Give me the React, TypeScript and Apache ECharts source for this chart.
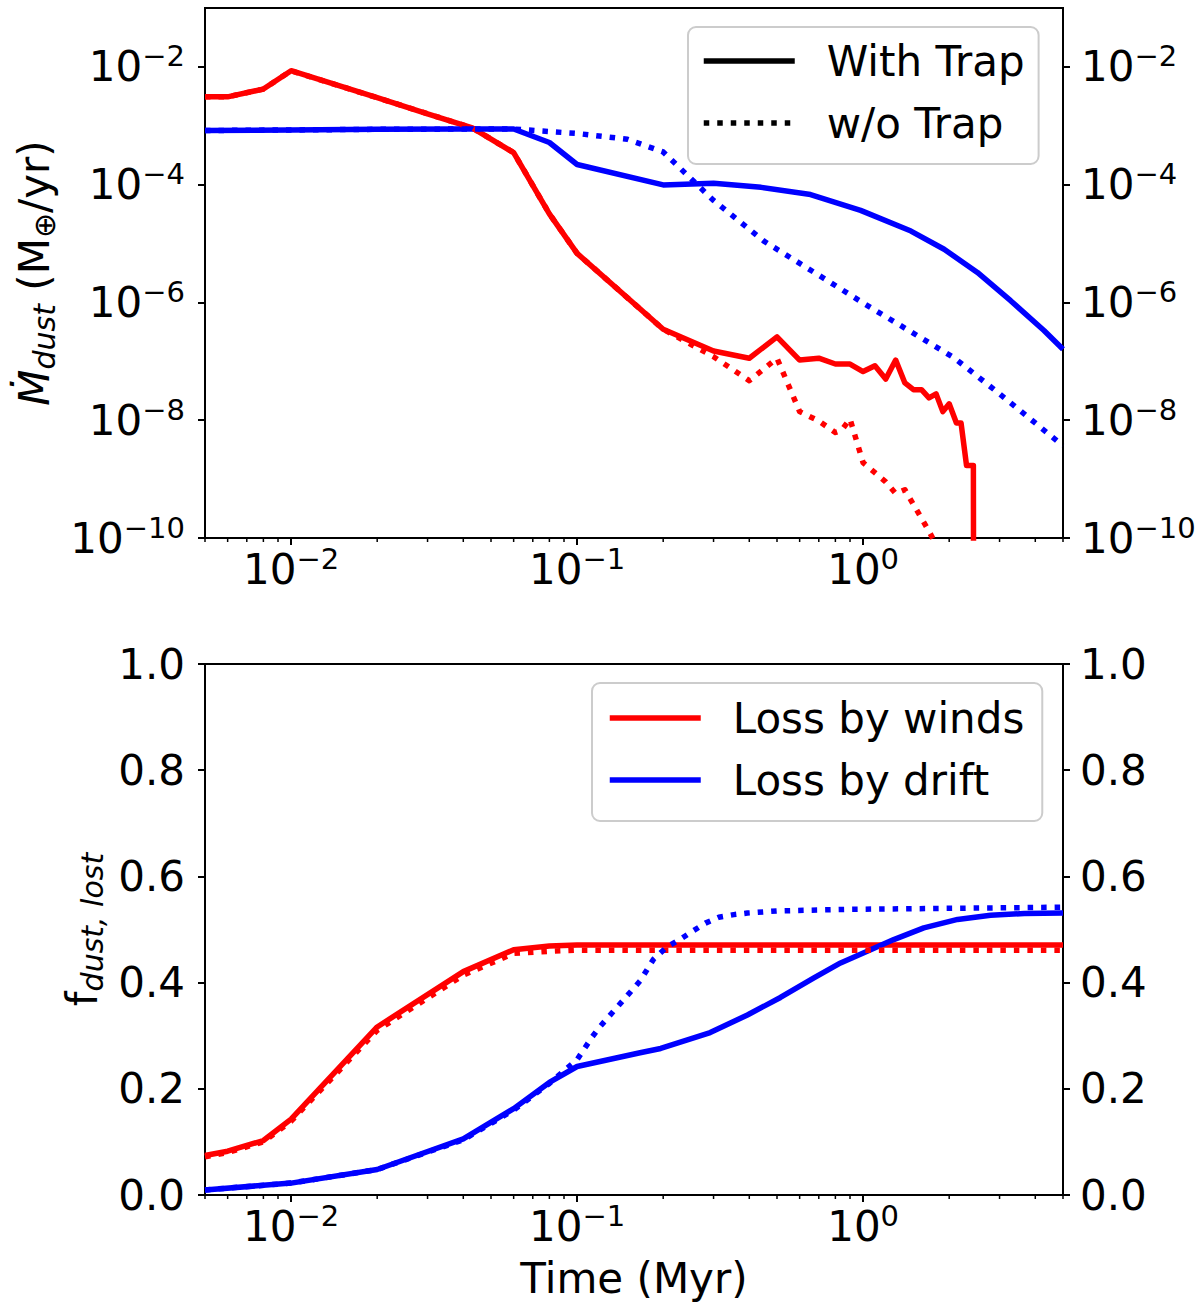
import React, { useEffect, useRef } from 'react';
import * as echarts from 'echarts';

const FONT = 'DejaVu Sans';
const RED = '#ff0000';
const BLUE = '#0000ff';
const LW = 5.5;
const DOT = [5.5, 8];

// top panel: dust loss rate (M_earth / yr) against time (Myr)
const windTrapTime = [0.005, 0.006, 0.008, 0.01, 0.02, 0.03, 0.043, 0.06, 0.08, 0.1, 0.2, 0.3, 0.4, 0.5, 0.6, 0.7, 0.8, 0.9, 1.0, 1.1, 1.2, 1.3, 1.4, 1.5, 1.6, 1.7, 1.8, 1.9, 2.0, 2.12, 2.2, 2.3, 2.43, 2.44];
const windTrapRate = [3.1e-3, 3.1e-3, 4.2e-3, 8.6e-3, 3.0e-3, 1.6e-3, 9.2e-4, 3.5e-4, 3.2e-5, 6.8e-6, 3.5e-7, 1.5e-7, 1.13e-7, 2.6e-7, 1.05e-7, 1.13e-7, 9e-8, 9e-8, 6.7e-8, 8.4e-8, 5e-8, 1.05e-7, 4.3e-8, 3.3e-8, 3.3e-8, 2.4e-8, 2.8e-8, 1.4e-8, 1.9e-8, 9e-9, 9e-9, 1.7e-9, 1.7e-9, 1e-14];

const windNoTrapTime = [0.005, 0.006, 0.008, 0.01, 0.02, 0.03, 0.043, 0.06, 0.08, 0.1, 0.2, 0.3, 0.4, 0.5, 0.6, 0.7, 0.8, 0.84, 0.9, 1.0, 1.2, 1.3, 1.4, 1.7, 2.0];
const windNoTrapRate = [3.1e-3, 3.1e-3, 4.2e-3, 8.6e-3, 3.0e-3, 1.6e-3, 9.2e-4, 3.5e-4, 3.2e-5, 6.8e-6, 3.5e-7, 1.2e-7, 4.7e-8, 1.13e-7, 1.4e-8, 9.7e-9, 6.2e-9, 6.7e-9, 1.05e-8, 1.9e-9, 9e-10, 5.7e-10, 6.6e-10, 1.3e-10, 3e-11];

const driftTrapTime = [0.005, 0.01, 0.02, 0.04, 0.06, 0.08, 0.1, 0.2, 0.3, 0.44, 0.655, 0.98, 1.47, 1.92, 2.51, 3.28, 4.29, 5.0];
const driftTrapRate = [8.3e-4, 8.5e-4, 8.7e-4, 8.8e-4, 8.8e-4, 5.2e-4, 2.2e-4, 9.9e-5, 1.06e-4, 9.0e-5, 6.8e-5, 3.66e-5, 1.63e-5, 8.0e-6, 3.23e-6, 1.07e-6, 3.34e-7, 1.6e-7];

const driftNoTrapTime = [0.005, 0.01, 0.02, 0.04, 0.06, 0.1, 0.15, 0.2, 0.3, 0.45, 0.7, 1.0, 2.08, 3.0, 5.0];
const driftNoTrapRate = [8.3e-4, 8.5e-4, 8.7e-4, 8.8e-4, 8.8e-4, 7.4e-4, 5.9e-4, 3.6e-4, 5.4e-5, 1.1e-5, 2.9e-6, 9.8e-7, 1.15e-7, 2.8e-8, 3.7e-9];

// bottom panel: fraction of dust lost
const windFracTime = [0.005, 0.006, 0.008, 0.01, 0.02, 0.04, 0.06, 0.08, 0.1, 0.2, 0.5, 1.0, 2.0, 5.0];
const windTrapFrac = [0.0745, 0.0825, 0.1026, 0.143, 0.3165, 0.4207, 0.462, 0.469, 0.471, 0.471, 0.471, 0.471, 0.471, 0.471];
const windNoTrapFrac = [0.072, 0.08, 0.1, 0.139, 0.31, 0.414, 0.455, 0.459, 0.461, 0.461, 0.461, 0.461, 0.461, 0.461];

const driftTrapFracTime = [0.005, 0.01, 0.02, 0.04, 0.06, 0.08, 0.1, 0.166, 0.196, 0.292, 0.394, 0.514, 0.673, 0.834, 1.034, 1.28, 1.63, 2.14, 2.79, 3.66, 5.0];
const driftTrapFrac = [0.0096, 0.0224, 0.048, 0.1058, 0.1627, 0.212, 0.242, 0.268, 0.276, 0.306, 0.339, 0.372, 0.409, 0.437, 0.459, 0.481, 0.503, 0.519, 0.527, 0.53, 0.531];

const driftNoTrapFracTime = [0.005, 0.01, 0.02, 0.04, 0.06, 0.08, 0.1, 0.113, 0.12, 0.166, 0.185, 0.206, 0.23, 0.252, 0.281, 0.313, 0.353, 0.394, 0.5, 0.904, 5.0];
const driftNoTrapFrac = [0.0096, 0.0224, 0.048, 0.104, 0.16, 0.21, 0.255, 0.298, 0.3165, 0.403, 0.444, 0.467, 0.482, 0.496, 0.512, 0.523, 0.528, 0.531, 0.535, 0.538, 0.542];

// ticks
const timeMajorTicks = [0.01, 0.1, 1];
const timeMinorTicks = [0.005, 0.006, 0.007, 0.008, 0.009, 0.02, 0.03, 0.04, 0.05, 0.06, 0.07, 0.08, 0.09, 0.2, 0.3, 0.4, 0.5, 0.6, 0.7, 0.8, 0.9, 2, 3, 4, 5];
const rateTicks = [1e-10, 1e-8, 1e-6, 1e-4, 1e-2];

const zip = (xs: number[], ys: number[]) => xs.map((x, i) => [x, ys[i]]);

const powLabel = (v: number) => {
  const e = Math.round(Math.log10(v));
  return `{b|10}{s|${e < 0 ? '\u2212' + -e : e}}`;
};

const tickRich = {
  b: { fontFamily: FONT, fontSize: 42, lineHeight: 50, color: '#000' },
  s: { fontFamily: FONT, fontSize: 29, lineHeight: 30, verticalAlign: 'top', color: '#000' },
};

const tick = (values?: number[], length = 7) => ({
  show: true,
  inside: false,
  length,
  lineStyle: { color: '#000', width: 2 },
  ...(values ? { customValues: values } : {}),
});

const timeAxis = (gridIndex: number, withName: boolean) => ({
  type: 'log',
  gridIndex,
  logBase: 10,
  min: 0.005,
  max: 5,
  position: 'bottom',
  axisLine: { show: false },
  axisTick: tick(timeMajorTicks),
  splitLine: { show: false },
  axisLabel: { customValues: timeMajorTicks, formatter: powLabel, rich: tickRich, margin: 6 },
  ...(withName
    ? {
        name: 'Time (Myr)',
        nameLocation: 'middle',
        nameGap: 62,
        nameTextStyle: { fontFamily: FONT, fontSize: 42, color: '#000' },
      }
    : {}),
});

const rateAxis = (position: string, withName: boolean) => ({
  type: 'log',
  gridIndex: 0,
  logBase: 10,
  min: 1e-10,
  max: 1e-1,
  position,
  axisLine: { show: false },
  axisTick: tick(rateTicks),
  splitLine: { show: false },
  axisLabel: { customValues: rateTicks, formatter: powLabel, rich: tickRich, margin: position === 'left' ? 20 : 18 },
  ...(withName
    ? {
        name: '{m|\u1E40}{ms|dust}{n| (M}{ns|\u2295}{n|/yr)}',
        nameLocation: 'middle',
        nameRotate: 90,
        nameGap: 146,
        nameTextStyle: {
          rich: {
            m: { fontFamily: FONT, fontSize: 42, fontStyle: 'italic', lineHeight: 50, color: '#000' },
            ms: { fontFamily: FONT, fontSize: 30, fontStyle: 'italic', lineHeight: 30, verticalAlign: 'bottom', color: '#000' },
            n: { fontFamily: FONT, fontSize: 42, lineHeight: 50, color: '#000' },
            ns: { fontFamily: FONT, fontSize: 30, lineHeight: 30, verticalAlign: 'bottom', color: '#000' },
          },
        },
      }
    : {}),
});

const fracAxis = (position: string, withName: boolean) => ({
  type: 'value',
  gridIndex: 1,
  min: 0,
  max: 1,
  interval: 0.2,
  position,
  axisLine: { show: false },
  axisTick: tick(),
  splitLine: { show: false },
  axisLabel: {
    fontFamily: FONT,
    fontSize: 42,
    color: '#000',
    margin: position === 'left' ? 20 : 17,
    formatter: (v: number) => v.toFixed(1),
  },
  ...(withName
    ? {
        name: '{n|f}{s|dust, lost}',
        nameLocation: 'middle',
        nameRotate: 90,
        nameGap: 94,
        nameTextStyle: {
          rich: {
            n: { fontFamily: FONT, fontSize: 42, lineHeight: 50, color: '#000' },
            s: { fontFamily: FONT, fontSize: 30, fontStyle: 'italic', lineHeight: 30, verticalAlign: 'bottom', color: '#000' },
          },
        },
      }
    : {}),
});

const line = (name: string, data: number[][], color: string, dotted: boolean, axis: number) => ({
  name,
  type: 'line',
  xAxisIndex: axis,
  yAxisIndex: axis * 2,
  data,
  symbol: 'none',
  showSymbol: false,
  clip: true,
  color,
  lineStyle: { color, width: LW, type: dotted ? DOT : 'solid', cap: 'butt', join: 'round' },
});

// short minor ticks under the log time axis, placed through the axis scale
const minorTicks = (axis: number, yBottom: number) => ({
  type: 'custom',
  xAxisIndex: axis,
  yAxisIndex: axis * 2,
  silent: true,
  clip: false,
  data: timeMinorTicks.map((t) => [t, yBottom]),
  encode: { x: 0, y: 1 },
  renderItem: (_params: any, api: any) => {
    const p = api.coord([api.value(0), api.value(1)]);
    return {
      type: 'line',
      shape: { x1: p[0], y1: p[1], x2: p[0], y2: p[1] + 4 },
      style: { stroke: '#000', lineWidth: 1.5 },
    };
  },
});

const legendBase = {
  orient: 'vertical',
  itemWidth: 91,
  itemHeight: 48,
  itemGap: 14,
  selectedMode: false,
  borderColor: '#cccccc',
  borderWidth: 2,
  borderRadius: 8,
  backgroundColor: 'rgba(255,255,255,0.8)',
  itemStyle: { opacity: 0 },
  lineStyle: { width: LW, cap: 'butt' },
  textStyle: { fontFamily: FONT, fontSize: 42, color: '#000', lineHeight: 48, padding: [0, 0, 0, 27] },
};

const App: React.FC = () => {
  const chartRef = useRef<HTMLDivElement>(null);

  useEffect(() => {
    document.body.style.margin = '0';
    if (!chartRef.current) return;
    const chart = echarts.init(chartRef.current, undefined, { renderer: 'svg' });

    chart.setOption({
      animation: false,
      backgroundColor: '#ffffff',
      grid: [
        { left: 205, top: 8, width: 858, height: 530, show: true, borderColor: '#000', borderWidth: 2, backgroundColor: 'transparent' },
        { left: 205, top: 664, width: 858, height: 531, show: true, borderColor: '#000', borderWidth: 2, backgroundColor: 'transparent' },
      ],
      xAxis: [timeAxis(0, false), timeAxis(1, true)],
      yAxis: [rateAxis('left', true), rateAxis('right', false), fracAxis('left', true), fracAxis('right', false)],
      legend: [
        { ...legendBase, data: ['With Trap', 'w/o Trap'], left: 688, top: 27, padding: [10, 14, 17, 13] },
        { ...legendBase, data: ['Loss by winds', 'Loss by drift'], left: 592, top: 683, padding: [11, 18, 17, 15] },
      ],
      series: [
        line('With Trap', [], '#000000', false, 0),
        line('w/o Trap', [], '#000000', true, 0),
        line('wind rate, trap', zip(windTrapTime, windTrapRate), RED, false, 0),
        line('drift rate, trap', zip(driftTrapTime, driftTrapRate), BLUE, false, 0),
        line('wind rate, no trap', zip(windNoTrapTime, windNoTrapRate), RED, true, 0),
        line('drift rate, no trap', zip(driftNoTrapTime, driftNoTrapRate), BLUE, true, 0),
        line('Loss by winds', zip(windFracTime, windTrapFrac), RED, false, 1),
        line('Loss by drift', zip(driftTrapFracTime, driftTrapFrac), BLUE, false, 1),
        line('wind fraction, no trap', zip(windFracTime, windNoTrapFrac), RED, true, 1),
        line('drift fraction, no trap', zip(driftNoTrapFracTime, driftNoTrapFrac), BLUE, true, 1),
        minorTicks(0, 1e-10),
        minorTicks(1, 0),
      ],
    });

    return () => {
      chart.dispose();
    };
  }, []);

  return <div ref={chartRef} style={{ width: '1200px', height: '1309px' }} />;
};

export default App;
